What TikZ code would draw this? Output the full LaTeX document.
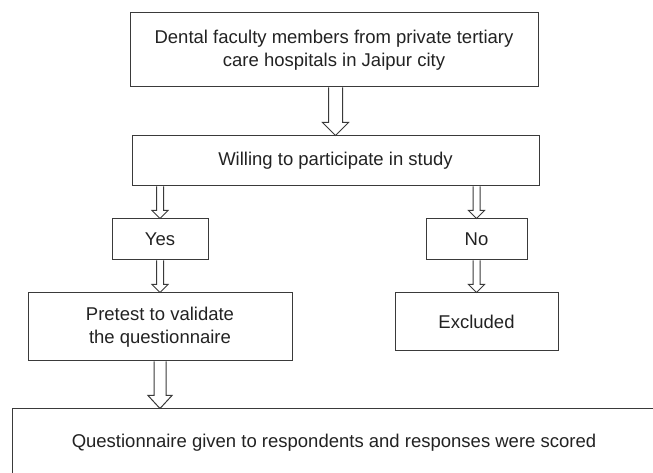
\documentclass[tikz,border=0pt]{standalone}
\usepackage{fontspec}
\setmainfont{Liberation Sans}
\usetikzlibrary{calc}
\definecolor{linegray}{HTML}{3A3A3A}
\definecolor{textgray}{HTML}{222222}
\newcommand\blockarrow[6]{%
  \coordinate (ba-s) at (#3 |- #1.south);
  \coordinate (ba-t) at (#3 |- #2.north);
  \draw[arr] ($(ba-s)+(-#4,0)$) -- ($(ba-t)+(-#4,#6)$) -- ($(ba-t)+(-#5,#6)$)
    -- (ba-t) -- ($(ba-t)+(#5,#6)$) -- ($(ba-t)+(#4,#6)$) -- ($(ba-s)+(#4,0)$);}
\begin{document}
\begin{tikzpicture}[x=1pt,y=1pt,
  box/.style={draw=linegray, line width=1pt, inner sep=0pt, align=center,
    text=textgray, font=\fontsize{18.5}{22.5}\selectfont},
  arr/.style={draw=linegray, line width=1pt}]
\clip (0,0) rectangle (653,473);
\node[box, minimum width=408pt, minimum height=74pt] (top) at (334,423)
  {Dental faculty members from private tertiary\\care hospitals in Jaipur city};
\node[box, minimum width=407pt, minimum height=50pt] (will) at (335.5,312)
  {Willing to participate in study};
\node[box, minimum width=96pt, minimum height=41pt] (yes) at (160,233.5) {Yes};
\node[box, minimum width=101pt, minimum height=41pt] (no) at (476.5,233.5) {No};
\node[box, minimum width=264pt, minimum height=68pt] (pre) at (160,146)
  {Pretest to validate\\the questionnaire};
\node[box, minimum width=163pt, minimum height=58pt] (exc) at (476.5,151) {Excluded};
\node[box, minimum width=644pt, minimum height=68pt] (quest) at (334,30)
  {Questionnaire given to respondents and responses were scored};
\blockarrow{top}{will}{will.north}{7}{13}{13}
\blockarrow{will}{yes}{yes.north}{3.5}{8}{8}
\blockarrow{will}{no}{no.north}{3.5}{8}{8}
\blockarrow{yes}{pre}{pre.north}{3.5}{8}{8}
\blockarrow{no}{exc}{exc.north}{3.5}{8}{8}
\blockarrow{pre}{quest}{pre.south}{6}{12}{13}
\end{tikzpicture}
\end{document}
